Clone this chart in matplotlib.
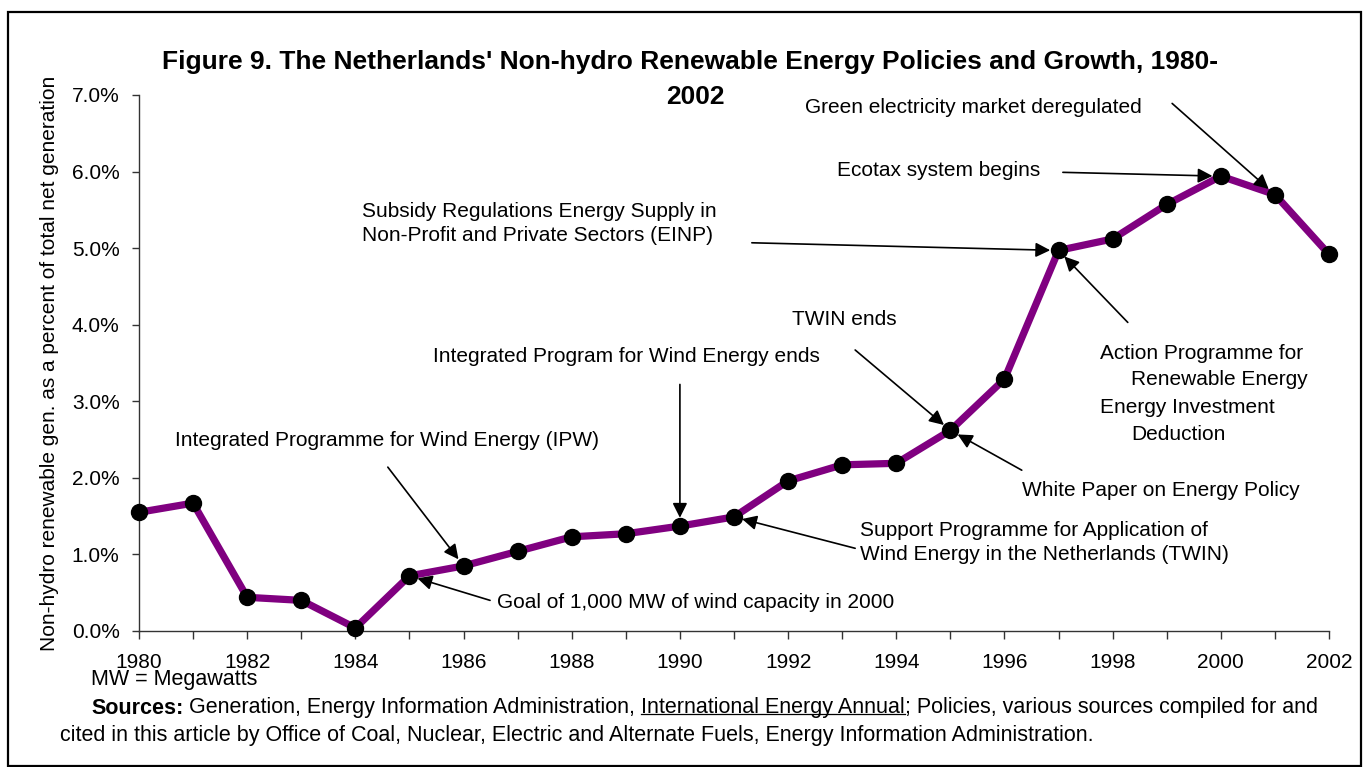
import matplotlib
matplotlib.use("Agg")
import matplotlib.pyplot as plt
from matplotlib.lines import Line2D
from matplotlib.patches import Rectangle
from matplotlib.ticker import FuncFormatter, MultipleLocator

plt.rcParams["font.family"] = ["Liberation Sans", "DejaVu Sans"]

# -------------------------------------------------------------------
# Data (share of total net generation, %)
# -------------------------------------------------------------------
years = list(range(1980, 2003))
share = [1.55, 1.67, 0.44, 0.40, 0.04, 0.72, 0.85, 1.04, 1.23, 1.27, 1.37,
         1.49, 1.96, 2.17, 2.19, 2.62, 3.29, 4.97, 5.12, 5.57, 5.94, 5.70, 4.92]

# policy labels: (text, target year, arrow start (x, y), text position (x, y))
policies = [
    ("Integrated Programme for Wind Energy (IPW)", 1986, (1984.60, 2.14), (1980.67, 2.49)),
    ("Goal of 1,000 MW of wind capacity in 2000", 1985, (1986.49, 0.40), (1986.62, 0.37)),
    ("Integrated Program for Wind Energy ends", 1990, (1990.0, 3.22), (1985.44, 3.58)),
    ("Support Programme for Application of\nWind Energy in the Netherlands (TWIN)",
     1991, (1993.24, 1.08), (1993.33, 1.16)),
    ("TWIN ends", 1995, (1993.24, 3.67), (1992.07, 4.07)),
    ("White Paper on Energy Policy", 1995, (1996.32, 2.10), (1996.32, 1.84)),
    ("Subsidy Regulations Energy Supply in\nNon-Profit and Private Sectors (EINP)",
     1997, (1991.33, 5.07), (1984.12, 5.32)),
    ("Action Programme for", 1997, (1998.28, 4.03), (1997.77, 3.63)),
    ("Ecotax system begins", 2000, (1997.08, 5.99), (1992.90, 6.02)),
    ("Green electricity market deregulated", 2001, (1999.10, 6.89), (1992.31, 6.84)),
]
# continuation lines of the "Action Programme" label
action_extra = [("Renewable Energy", (1998.34, 3.28)),
                ("Energy Investment", (1997.77, 2.92)),
                ("Deduction", (1998.34, 2.57))]

# -------------------------------------------------------------------
# Figure
# -------------------------------------------------------------------
W, H = 1368, 767
fig = plt.figure(figsize=(W / 100, H / 100), dpi=100)
ax = fig.add_axes([139 / W, 1 - 631 / H, (1329 - 139) / W, (631 - 95) / H])

ax.plot(years, share, color="#800080", lw=5.2, marker="o", ms=11.5,
        mfc="black", mec="black", clip_on=False, zorder=3)

ax.set_xlim(1980, 2002)
ax.set_ylim(0, 7)
ax.xaxis.set_major_locator(MultipleLocator(2))
ax.xaxis.set_minor_locator(MultipleLocator(1))
ax.yaxis.set_major_locator(MultipleLocator(1))
ax.yaxis.set_major_formatter(FuncFormatter(lambda v, p: f"{v:.1f}%"))
for s in ["top", "right"]:
    ax.spines[s].set_visible(False)
for s in ["left", "bottom"]:
    ax.spines[s].set_linewidth(1.0)
    ax.spines[s].set_color("#333333")
ax.tick_params(axis="x", which="both", length=6, width=1, direction="out",
               labelsize=15, pad=10, color="#333333")
ax.tick_params(axis="y", length=5, width=1, direction="out", labelsize=15,
               pad=9, color="#333333")
ax.set_ylabel("Non-hydro renewable gen. as a percent of total net generation",
              fontsize=15)
ax.yaxis.set_label_coords(-0.067, 0.5)

def arrow(start, year):
    i = years.index(year)
    ax.annotate("", xy=(year, share[i]), xytext=start,
                arrowprops=dict(arrowstyle="-|>", color="black", lw=1.2,
                                mutation_scale=22, shrinkA=0, shrinkB=6),
                zorder=4, annotation_clip=False)

for label, yr, start, pos in policies:
    arrow(start, yr)
    ax.text(pos[0], pos[1], label, fontsize=15, ha="left", va="center",
            linespacing=1.35)
for label, pos in action_extra:
    ax.text(pos[0], pos[1], label, fontsize=15, ha="left", va="center")

# title
fig.text(690 / W, 1 - 62 / H,
         "Figure 9. The Netherlands' Non-hydro Renewable Energy Policies and Growth, 1980-",
         fontsize=19, weight="bold", ha="center", va="center")
fig.text(695 / W, 1 - 97 / H, "2002", fontsize=19, weight="bold",
         ha="center", va="center")

# footer
FS = 15.5
fig.text(91 / W, 1 - 680 / H, "MW = Megawatts", fontsize=FS, va="center")
t1 = fig.text(91 / W, 1 - 708 / H, "Sources:", fontsize=FS, weight="bold",
              va="center")
t2 = ax.annotate(" Generation, Energy Information Administration, ",
                 xy=(1, 0), xycoords=t1, fontsize=FS, va="bottom", ha="left")
t3 = ax.annotate("International Energy Annual", xy=(1, 0), xycoords=t2,
                 fontsize=FS, va="bottom", ha="left")
ax.annotate("; Policies, various sources compiled for and", xy=(1, 0),
            xycoords=t3, fontsize=FS, va="bottom", ha="left")
fig.text(60 / W, 1 - 735 / H,
         "cited in this article by Office of Coal, Nuclear, Electric and "
         "Alternate Fuels, Energy Information Administration.",
         fontsize=FS, va="center")

# underline the publication title
fig.canvas.draw()
bb = t3.get_window_extent().transformed(fig.transFigure.inverted())
uy = bb.y0 + 0.2 * bb.height
fig.add_artist(Line2D([bb.x0, bb.x1], [uy, uy], color="black", lw=0.9))

# outer frame
fig.add_artist(Rectangle((8 / W, 1 - 766 / H), (1361 - 8) / W, (766 - 12) / H,
                         fill=False, ec="black", lw=1.6,
                         transform=fig.transFigure))

fig.savefig("out.png", dpi=100)
